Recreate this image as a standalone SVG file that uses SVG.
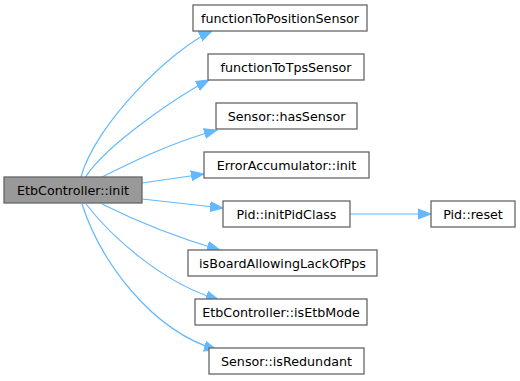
<svg xmlns="http://www.w3.org/2000/svg" width="520" height="381" viewBox="0 0 520 381">
<style>
.n rect{fill:#ffffff;stroke:#666666;stroke-width:1.3}
.n.main rect{fill:#999999}
.n text{font-family:"DejaVu Sans",sans-serif;font-size:12.7px;fill:#000000;text-anchor:middle}
.e path{fill:none;stroke:#63b8ff;stroke-width:1.2;marker-end:url(#ah)}
</style>
<defs>
<marker id="ah" markerUnits="userSpaceOnUse" markerWidth="14" markerHeight="12" refX="13" refY="5" orient="auto" viewBox="0 0 14 10">
<path d="M0,0 L13,5 L0,10 z" fill="#63b8ff" stroke="#63b8ff" stroke-width="1"/>
</marker>
</defs>
<rect width="520" height="381" fill="#ffffff"/>
<g id="edges" class="e">
<path d="M81,177 C95,125 170,50 212,31"/>
<path d="M85,178 C105,145 180,95 209,80"/>
<path d="M100,178 C130,163 170,143 217,130"/>
<path d="M142,183 L204,174"/>
<path d="M142,199 L223,208"/>
<path d="M102,204 C130,218 175,237 220,250"/>
<path d="M86,204 C110,235 160,282 219,300"/>
<path d="M82,204 C100,260 150,330 217,350"/>
<path d="M350,214 L431,214"/>
</g>
<g id="node-main" class="n main"><rect x="4" y="177" width="138" height="26"/><text x="73" y="194.5">EtbController::init</text></g>
<g id="node-fpos" class="n"><rect x="193" y="5" width="174" height="26"/><text x="280" y="22.5">functionToPositionSensor</text></g>
<g id="node-ftps" class="n"><rect x="208" y="54" width="156" height="26"/><text x="286" y="71.5">functionToTpsSensor</text></g>
<g id="node-hassensor" class="n"><rect x="216" y="103" width="141" height="26"/><text x="286.5" y="120.5">Sensor::hasSensor</text></g>
<g id="node-erracc" class="n"><rect x="204" y="152" width="165" height="26"/><text x="286.5" y="169.5">ErrorAccumulator::init</text></g>
<g id="node-pidinit" class="n"><rect x="223" y="201" width="127" height="26"/><text x="286.5" y="218.5">Pid::initPidClass</text></g>
<g id="node-isboard" class="n"><rect x="188" y="250" width="189" height="26"/><text x="282.5" y="267.5">isBoardAllowingLackOfPps</text></g>
<g id="node-isetb" class="n"><rect x="195" y="299" width="172" height="26"/><text x="281" y="316.5">EtbController::isEtbMode</text></g>
<g id="node-isred" class="n"><rect x="209" y="348" width="155" height="26"/><text x="286.5" y="365.5">Sensor::isRedundant</text></g>
<g id="node-pidreset" class="n"><rect x="431" y="201" width="84" height="26"/><text x="473" y="218.5">Pid::reset</text></g>
</svg>
